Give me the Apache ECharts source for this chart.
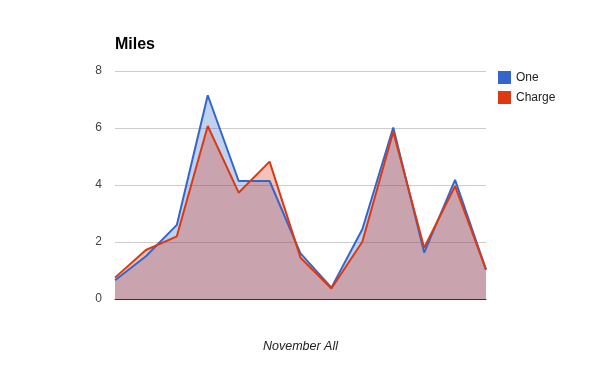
<!DOCTYPE html>
<html><head><meta charset="utf-8">
<script src="https://cdn.jsdelivr.net/npm/echarts@6/dist/echarts.min.js"></script>
<style>html,body{margin:0;padding:0;background:#fff}#c{width:600px;height:371px}</style>
</head><body><div id="c"></div>
<script>
const categories = ['1','2','3','4','5','6','7','8','9','10','11','12','13'];
const oneValues = [0.66, 1.5, 2.6, 7.15, 4.14, 4.14, 1.6, 0.4, 2.45, 6.02, 1.63, 4.18, 1.03];
const chargeValues = [0.75, 1.72, 2.2, 6.07, 3.73, 4.82, 1.45, 0.37, 2.01, 5.87, 1.8, 3.96, 1.03];
const yTicks = [0, 2, 4, 6, 8];
const seriesNames = ['One', 'Charge'];
const colors = ['#3366CC', '#DC3912'];

const chart = echarts.init(document.getElementById('c'), null, {renderer: 'canvas'});
const font = 'Arial, "Liberation Sans", sans-serif';
chart.setOption({
  animation: false,
  color: colors,
  title: {
    text: 'Miles', left: 110, top: 32,
    textStyle: {fontFamily: font, fontSize: 16, fontWeight: 'bold', color: '#000'}
  },
  legend: {
    orient: 'vertical', left: 493, top: 66, itemWidth: 13, itemHeight: 13, itemGap: 7,
    icon: 'rect',
    textStyle: {fontFamily: font, fontSize: 12, color: '#222'},
    data: seriesNames
  },
  grid: {left: 115, right: 114, top: 71, bottom: 72, containLabel: false},
  xAxis: {
    type: 'category', data: categories, boundaryGap: false,
    name: 'November All', nameLocation: 'middle', nameGap: 41,
    nameTextStyle: {fontFamily: font, fontSize: 12.5, fontStyle: 'italic', color: '#222'},
    axisLine: {lineStyle: {color: '#333', width: 1}},
    axisTick: {show: false}, axisLabel: {show: false}
  },
  yAxis: {
    type: 'value', min: yTicks[0], max: yTicks[yTicks.length-1], interval: 2,
    axisLine: {show: false}, axisTick: {show: false},
    axisLabel: {fontFamily: font, fontSize: 12, color: '#444', margin: 13},
    splitLine: {lineStyle: {color: '#ccc'}}
  },
  series: [
    {name: seriesNames[0], type: 'line', data: oneValues, symbol: 'none',
     lineStyle: {width: 2}, areaStyle: {opacity: 0.3}},
    {name: seriesNames[1], type: 'line', data: chargeValues, symbol: 'none',
     lineStyle: {width: 2}, areaStyle: {opacity: 0.3}}
  ]
});
</script></body></html>
